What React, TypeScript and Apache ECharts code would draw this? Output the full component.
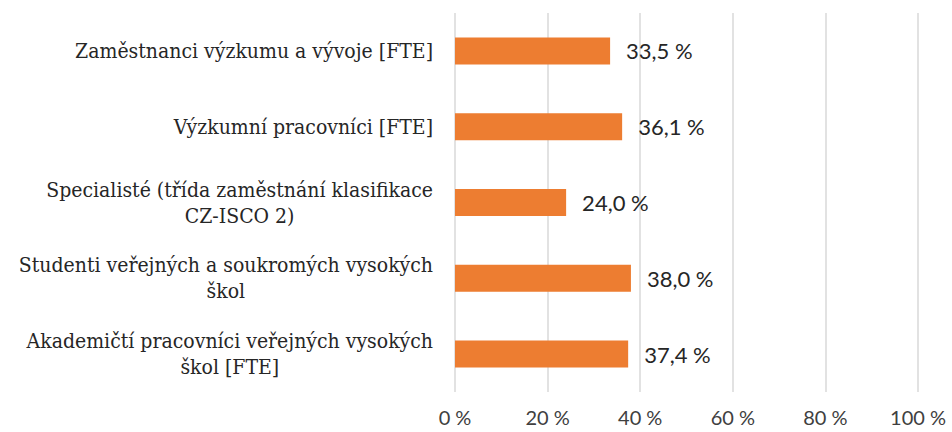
import React, { useEffect, useRef } from "react";
import * as echarts from "echarts";

const categories: string[] = [
  "Zaměstnanci výzkumu a vývoje [FTE]",
  "Výzkumní pracovníci [FTE]",
  "Specialisté (třída zaměstnání klasifikace\nCZ-ISCO 2)",
  "Studenti veřejných a soukromých vysokých\nškol",
  "Akademičtí pracovníci veřejných vysokých\nškol [FTE]",
];
const values: number[] = [33.5, 36.1, 24.0, 38.0, 37.4];
const xTicks: number[] = [0, 20, 40, 60, 80, 100];

export default function App() {
  const ref = useRef<HTMLDivElement>(null);
  useEffect(() => {
    document.body.style.margin = "0";
    const chart = echarts.init(ref.current!, null, { renderer: "svg" });
    chart.setOption({
      animation: false,
      grid: { left: 455, right: 34, top: 13, bottom: 40, containLabel: false },
      xAxis: {
        type: "value",
        min: xTicks[0],
        max: xTicks[xTicks.length - 1],
        interval: 20,
        axisLine: { show: false },
        axisTick: { show: false },
        splitLine: { show: true, lineStyle: { color: "#d9d9d9", width: 1.5 } },
        axisLabel: {
          formatter: (v: number) => `${v} %`,
          color: "#404040",
          fontFamily: "Lato",
          fontSize: 20,
          margin: 15,
        },
      },
      yAxis: {
        type: "category",
        data: categories,
        inverse: true,
        axisLine: { show: false },
        axisTick: { show: false },
        axisLabel: {
          margin: 22,
          formatter: (v: string) =>
            v.split("\n").map((l) => `{c|${l}}`).join("\n"),
          rich: {
            c: {
              align: "center",
              fontFamily: "DejaVu Serif Condensed",
              fontSize: 21,
              color: "#262626",
              lineHeight: 26,
            },
          },
        },
      },
      series: [
        {
          type: "bar",
          data: values,
          barWidth: 27,
          itemStyle: { color: "#ED7D31" },
          label: {
            show: true,
            position: "right",
            distance: 16,
            formatter: (p: any) => `${p.value.toFixed(1).replace(".", ",")} %`,
            color: "#262626",
            fontFamily: "Lato",
            fontSize: 22,
          },
        },
      ],
    });
    return () => chart.dispose();
  }, []);
  return <div ref={ref} style={{ width: 952, height: 432 }} />;
}
